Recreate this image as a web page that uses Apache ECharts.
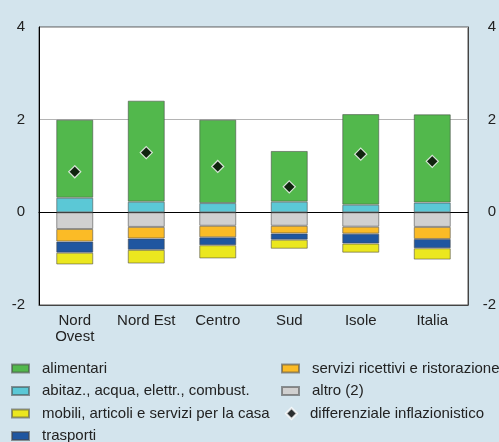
<!DOCTYPE html>
<html>
<head>
<meta charset="utf-8">
<script src="https://cdn.jsdelivr.net/npm/echarts@6/dist/echarts.min.js"></script>
<style>
  html, body { margin: 0; padding: 0; background: #d3e4ed; }
  #container { width: 499px; height: 442px; }
</style>
</head>
<body>
<div id="container"></div>
<script>
var regioni = ['Nord\nOvest', 'Nord Est', 'Centro', 'Sud', 'Isole', 'Italia'];
var yTicks = [-2, 0, 2, 4];

var alimentari = [1.685, 2.18, 1.8, 1.095, 1.955, 1.905];
var abitazioni = [0.315, 0.23, 0.2, 0.23, 0.165, 0.21];
var altro = [-0.36, -0.315, -0.29, -0.29, -0.31, -0.315];
var servizi = [-0.27, -0.25, -0.25, -0.165, -0.15, -0.26];
var trasporti = [-0.24, -0.245, -0.17, -0.135, -0.215, -0.2];
var mobili = [-0.255, -0.295, -0.285, -0.195, -0.195, -0.245];
var differenziale = [0.875, 1.29, 0.99, 0.55, 1.255, 1.1];

(function(){
	var dom = document.getElementById('container');
	var myChart = echarts.init(dom);
	var font = 'Liberation Sans, Arial, sans-serif';
	var txt = {color: '#222', fontSize: 15, fontFamily: font};

	function barra(nome, valori, colore) {
		return {
			name: nome,
			type: 'bar',
			stack: 'tot',
			barWidth: 37,
			data: valori,
			itemStyle: {color: colore, borderColor: 'rgba(70,70,70,0.55)', borderWidth: 1}
		};
	}

	var legendaBase = {
		orient: 'vertical',
		top: 361,
		padding: 0,
		height: 90,
		icon: 'rect',
		itemWidth: 17,
		itemHeight: 8,
		itemGap: 7.5,
		selectedMode: false,
		textStyle: {color: '#222', fontSize: 15, fontFamily: font, lineHeight: 15, padding: [0, 0, 0, 8]}
	};

	var option = {
		backgroundColor: '#d3e4ed',
		animation: false,
		grid: {
			left: 39, right: 28, top: 27, bottom: 137,
			show: true, backgroundColor: '#ffffff', borderColor: '#555', borderWidth: 1
		},
		legend: [
			echarts.util.merge({left: 11, data: ['alimentari', 'abitaz., acqua, elettr., combust.', 'mobili, articoli e servizi per la casa', 'trasporti']}, legendaBase),
			echarts.util.merge({left: 281, data: ['servizi ricettivi e ristorazione', 'altro (2)']}, legendaBase),
			echarts.util.merge({left: 285, top: 406, icon: 'diamond', itemWidth: 11, itemHeight: 11, data: ['differenziale inflazionistico']}, legendaBase)
		],
		xAxis: [{
			type: 'category',
			data: regioni,
			position: 'bottom',
			axisLine: {onZero: false, lineStyle: {color: '#444'}},
			axisTick: {show: false},
			axisLabel: echarts.util.merge({margin: 8, lineHeight: 16, interval: 0}, txt)
		}, {
			type: 'category',
			data: regioni,
			position: 'top',
			axisLine: {onZero: true, lineStyle: {color: '#000'}},
			axisTick: {show: false},
			axisLabel: {show: false}
		}],
		yAxis: [{
			type: 'value',
			min: yTicks[0], max: yTicks[yTicks.length - 1], interval: 2,
			axisLine: {show: true, lineStyle: {color: '#000'}},
			axisTick: {show: false},
			splitLine: {lineStyle: {color: '#b4b4b4'}},
			axisLabel: echarts.util.merge({margin: 14}, txt)
		}, {
			type: 'value',
			position: 'right',
			min: yTicks[0], max: yTicks[yTicks.length - 1], interval: 2,
			axisLine: {show: true, lineStyle: {color: '#444'}},
			axisTick: {show: false},
			splitLine: {show: false},
			axisLabel: echarts.util.merge({margin: 28, align: 'right'}, txt)
		}],
		series: [
			barra('abitaz., acqua, elettr., combust.', abitazioni, '#5bc8d6'),
			barra('alimentari', alimentari, '#52b84c'),
			barra('altro (2)', altro, '#d0d0d0'),
			barra('servizi ricettivi e ristorazione', servizi, '#fbbb26'),
			barra('trasporti', trasporti, '#1f56a0'),
			barra('mobili, articoli e servizi per la casa', mobili, '#ebe71f'),
			{
				name: 'differenziale inflazionistico',
				type: 'scatter',
				symbol: 'diamond',
				symbolSize: 12,
				z: 5,
				data: differenziale,
				itemStyle: {color: '#000', borderColor: '#fff', borderWidth: 1.2}
			}
		]
	};
	myChart.setOption(option, true);
})();
</script>
</body>
</html>
